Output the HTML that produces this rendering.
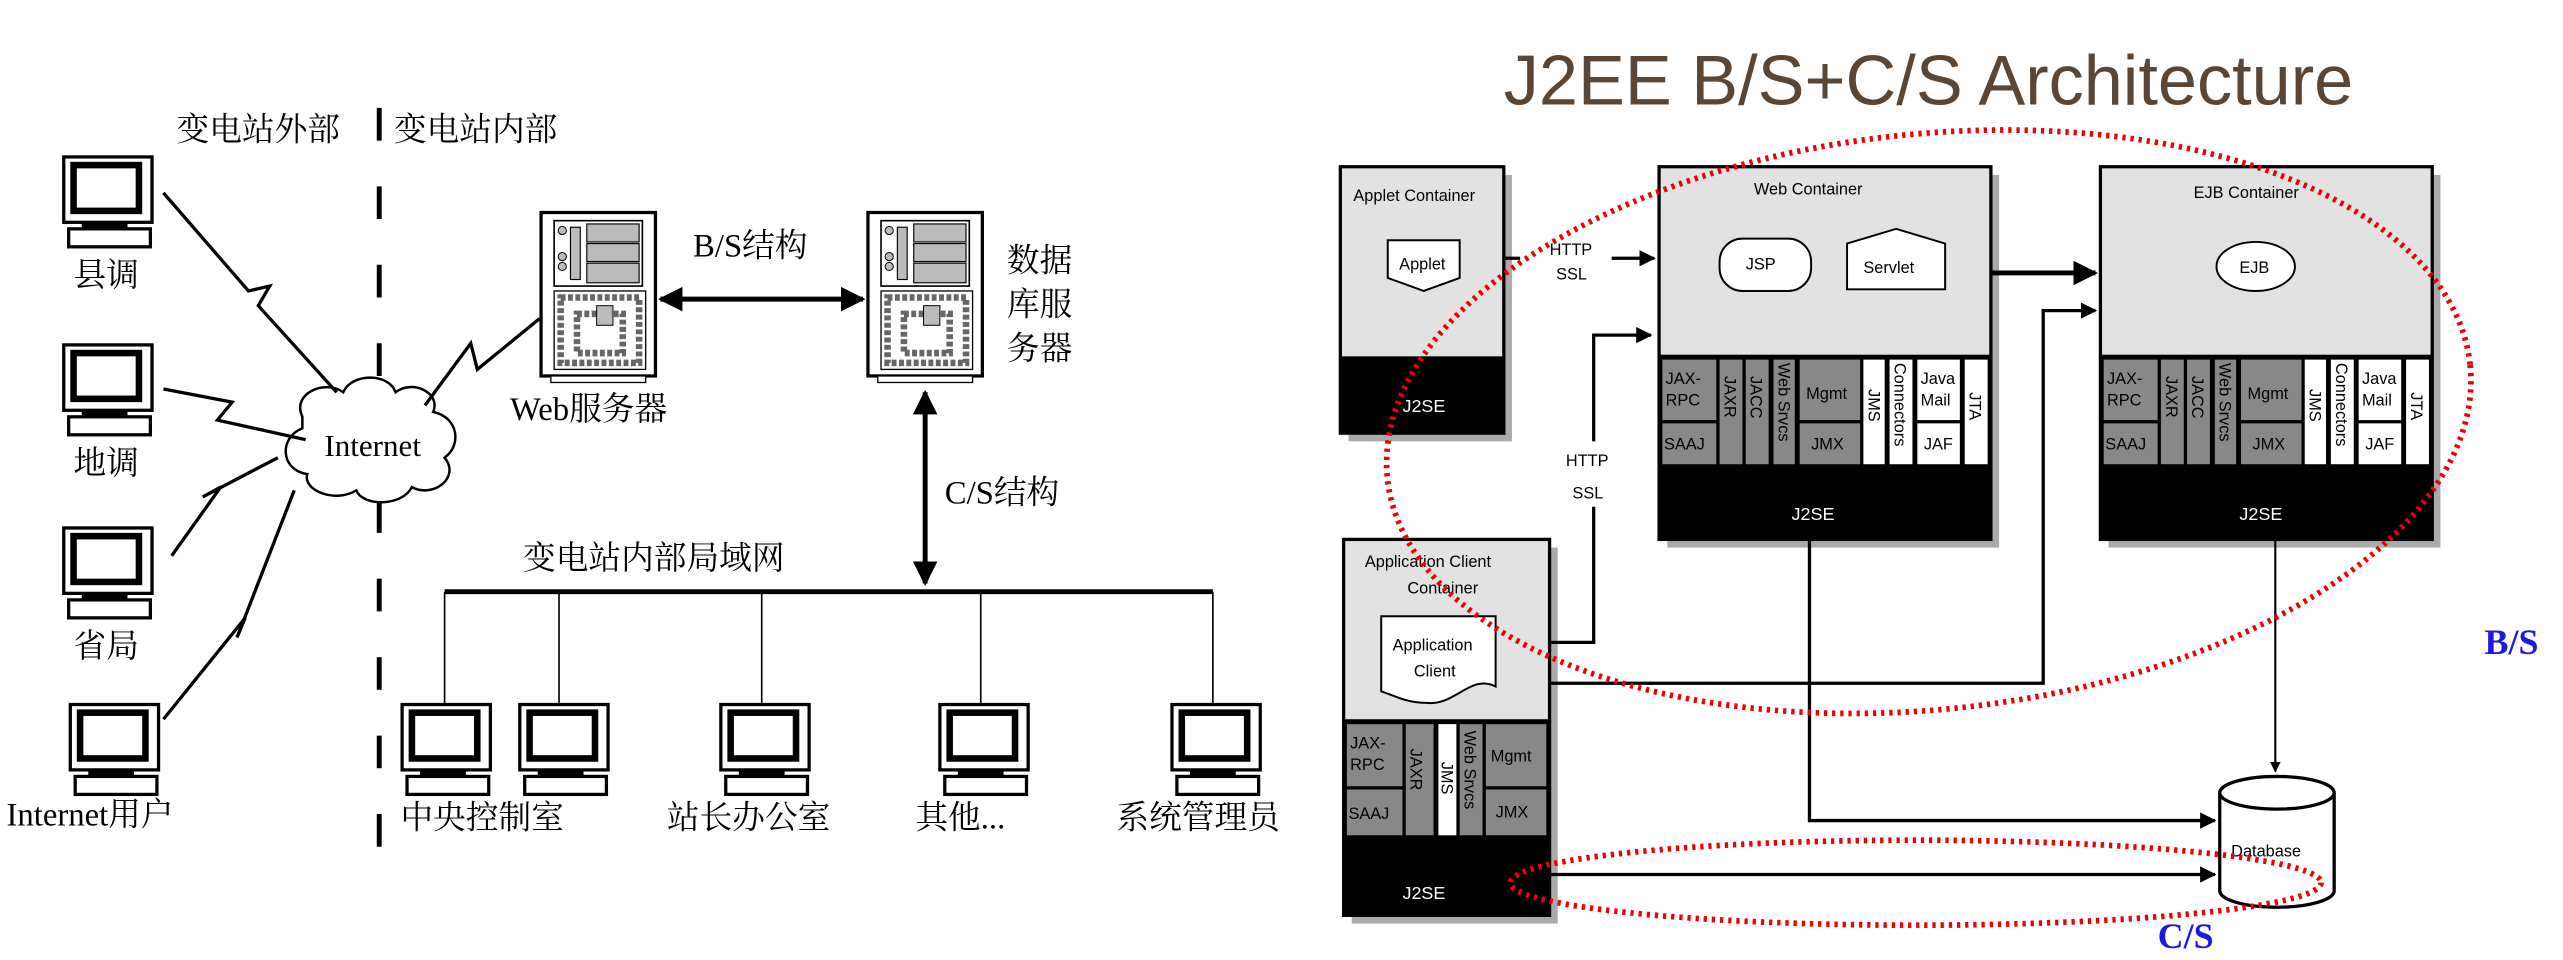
<!DOCTYPE html>
<html><head><meta charset="utf-8"><style>
html,body{margin:0;padding:0;background:#fff;}
svg{display:block;}
.cn{font-family:"Liberation Serif","Noto Serif CJK SC",serif;font-size:20px;fill:#000;}
.sm{font-family:"Liberation Sans",sans-serif;font-size:10px;fill:#000;}
.wt{font-family:"Liberation Sans",sans-serif;font-size:11px;fill:#fff;}
</style></head><body>
<svg width="2563" height="960" viewBox="0 0 1568 587.3" preserveAspectRatio="none" xmlns="http://www.w3.org/2000/svg">
<defs>
<g id="pc">
<rect x="1" y="1" width="54" height="40" fill="#fff" stroke="#000" stroke-width="2"/>
<rect x="7" y="6" width="40" height="28" fill="#fff" stroke="#000" stroke-width="4"/>
<rect x="12" y="41" width="28" height="4" fill="#000"/>
<rect x="4" y="45" width="50" height="11" fill="#fff" stroke="#000" stroke-width="2"/>
</g>
<g id="srv">
<rect x="0" y="0" width="70" height="100" fill="#fff" stroke="#000" stroke-width="2"/>
<rect x="8" y="5" width="54" height="40" fill="none" stroke="#000"/>
<rect x="28" y="7" width="32" height="11" fill="#bbb" stroke="#000" stroke-width="0.7"/>
<rect x="28" y="19" width="32" height="11" fill="#bbb" stroke="#000" stroke-width="0.7"/>
<rect x="28" y="31" width="32" height="12" fill="#bbb" stroke="#000" stroke-width="0.7"/>
<rect x="18" y="9" width="6" height="32" fill="#bbb" stroke="#000" stroke-width="0.7"/>
<circle cx="13" cy="11" r="2.5" fill="#bbb" stroke="#000" stroke-width="0.6"/>
<circle cx="13" cy="27" r="2.5" fill="#bbb" stroke="#000" stroke-width="0.6"/>
<circle cx="13" cy="33" r="2.5" fill="#bbb" stroke="#000" stroke-width="0.6"/>
<rect x="8" y="48" width="56" height="48" fill="#fff" stroke="#000" stroke-width="0.8"/>
<rect x="12" y="52" width="48" height="40" fill="none" stroke="#666" stroke-width="4" stroke-dasharray="3 1.5"/>
<rect x="22" y="62" width="28" height="24" fill="none" stroke="#666" stroke-width="4" stroke-dasharray="3 1.5"/>
<rect x="34" y="57" width="10" height="12" fill="#bbb" stroke="#000" stroke-width="0.6"/>
<rect x="6" y="100" width="58" height="4" fill="#fff" stroke="#000" stroke-width="0.8"/>
</g>
<marker id="ah" viewBox="0 0 10 10" refX="9" refY="5" markerWidth="5" markerHeight="5" orient="auto-start-reverse"><path d="M0,0 L10,5 L0,10 z" fill="#000"/></marker>
</defs>

<text class="cn" x="108" y="86">变电站外部</text>
<text class="cn" x="241" y="86">变电站内部</text>
<line x1="232" y1="66" x2="232" y2="530" stroke="#000" stroke-width="3" stroke-dasharray="20 28"/>

<use href="#pc" x="38" y="95"/>
<text class="cn" x="45" y="175">县调</text>
<use href="#pc" x="38" y="210"/>
<text class="cn" x="45" y="290">地调</text>
<use href="#pc" x="38" y="322"/>
<text class="cn" x="45" y="402">省局</text>
<use href="#pc" x="42" y="430"/>
<text class="cn" x="4" y="505">Internet用户</text>

<path d="M185,255 C178,240 200,232 210,240 C215,228 238,228 242,240 C252,232 270,240 265,252 C280,255 283,272 272,280 C282,292 265,305 252,298 C246,310 222,310 218,300 C205,308 185,300 188,290 C172,288 170,268 185,262 Z" fill="#fff" stroke="#000" stroke-width="1.5"/>
<text x="228" y="279" text-anchor="middle" style="font-family:'Liberation Serif',serif;font-size:19px;">Internet</text>

<polyline points="100,118 152,178 165,175 158,187 206,240" fill="none" stroke="#000" stroke-width="2"/>
<polyline points="100,238 142,246 133,257 187,269" fill="none" stroke="#000" stroke-width="2"/>
<polyline points="105,340 135,298 124,304 170,280" fill="none" stroke="#000" stroke-width="2"/>
<polyline points="100,440 150,378 145,390 180,300" fill="none" stroke="#000" stroke-width="2"/>
<polyline points="260,248 288,210 292,226 330,195" fill="none" stroke="#000" stroke-width="2"/>

<use href="#srv" x="331" y="130"/>
<text class="cn" x="312" y="257">Web服务器</text>
<use href="#srv" x="531" y="130"/>
<text class="cn" x="616" y="166">数据</text>
<text class="cn" x="616" y="193">库服</text>
<text class="cn" x="616" y="220">务器</text>

<text class="cn" x="424" y="157">B/S结构</text>
<line x1="404" y1="183" x2="528" y2="183" stroke="#000" stroke-width="3" marker-start="url(#ah)" marker-end="url(#ah)"/>
<text class="cn" x="578" y="308">C/S结构</text>
<line x1="566" y1="240" x2="566" y2="357" stroke="#000" stroke-width="3" marker-start="url(#ah)" marker-end="url(#ah)"/>

<text class="cn" x="320" y="348">变电站内部局域网</text>
<line x1="272" y1="362" x2="742" y2="362" stroke="#000" stroke-width="3"/>
<g stroke="#000" stroke-width="1">
<line x1="272" y1="362" x2="272" y2="430"/><line x1="342" y1="362" x2="342" y2="430"/>
<line x1="466" y1="362" x2="466" y2="430"/><line x1="600" y1="362" x2="600" y2="430"/>
<line x1="742" y1="362" x2="742" y2="430"/>
</g>
<use href="#pc" x="245" y="430"/>
<use href="#pc" x="317" y="430"/>
<use href="#pc" x="440" y="430"/>
<use href="#pc" x="574" y="430"/>
<use href="#pc" x="716" y="430"/>
<text class="cn" x="245" y="507">中央控制室</text>
<text class="cn" x="408" y="507">站长办公室</text>
<text class="cn" x="560" y="507">其他...</text>
<text class="cn" x="683" y="507">系统管理员</text>

<text x="920" y="64" style="font-family:'Liberation Sans',sans-serif;font-size:43px;fill:#5a4636;">J2EE B/S+C/S Architecture</text>

<rect x="825" y="107" width="100" height="163" fill="#aaa"/>
<rect x="820" y="102" width="100" height="163" fill="#e2e2e2" stroke="#000" stroke-width="2"/>
<rect x="820" y="218" width="100" height="47" fill="#000"/>
<text class="sm" x="828" y="123">Applet Container</text>
<path d="M849,147 H893 V170 L871,178 L849,170 Z" fill="#fff" stroke="#000" stroke-width="1.2"/>
<text class="sm" x="856" y="165">Applet</text>
<text class="wt" x="858" y="252">J2SE</text>

<rect x="1020" y="107" width="203" height="228" fill="#aaa"/>
<rect x="1015" y="102" width="203" height="228" fill="#e2e2e2" stroke="#000" stroke-width="2"/>
<text class="sm" x="1073" y="119">Web Container</text>
<rect x="1052" y="146" width="56" height="32" rx="14" fill="#fff" stroke="#000" stroke-width="1.2"/>
<text class="sm" x="1068" y="165">JSP</text>
<path d="M1130,149 L1160,140 L1190,149 V177 H1130 Z" fill="#fff" stroke="#000" stroke-width="1.2"/>
<text class="sm" x="1140" y="167">Servlet</text>
<rect x="1015" y="217" width="203" height="113" fill="#000"/>
<g fill="#888"><rect x="1017" y="220" width="33" height="37"/><rect x="1017" y="259" width="33" height="25"/><rect x="1052" y="220" width="14" height="64"/><rect x="1068" y="220" width="14" height="64"/><rect x="1085" y="220" width="13" height="64"/><rect x="1101" y="220" width="37" height="37"/><rect x="1101" y="259" width="37" height="25"/></g>
<g fill="#fff"><rect x="1140" y="220" width="13" height="64"/><rect x="1156" y="220" width="14" height="64"/><rect x="1173" y="220" width="26" height="37"/><rect x="1173" y="259" width="26" height="25"/><rect x="1202" y="220" width="14" height="64"/></g>
<text class="sm" x="1019" y="235">JAX-</text><text class="sm" x="1019" y="248">RPC</text><text class="sm" x="1018" y="275">SAAJ</text>
<text class="sm" x="1105" y="244">Mgmt</text><text class="sm" x="1108" y="275">JMX</text>
<text class="sm" x="1175" y="235">Java</text><text class="sm" x="1175" y="248">Mail</text><text class="sm" x="1177" y="275">JAF</text>
<text class="sm" transform="translate(1055,230) rotate(90)">JAXR</text>
<text class="sm" transform="translate(1071,230) rotate(90)">JACC</text>
<text class="sm" transform="translate(1088,222) rotate(90)">Web Srvcs</text>
<text class="sm" transform="translate(1143,238) rotate(90)">JMS</text>
<text class="sm" transform="translate(1159,222) rotate(90)">Connectors</text>
<text class="sm" transform="translate(1205,240) rotate(90)">JTA</text>
<text class="wt" x="1096" y="318">J2SE</text>

<rect x="1290" y="107" width="203" height="228" fill="#aaa"/>
<rect x="1285" y="102" width="203" height="228" fill="#e2e2e2" stroke="#000" stroke-width="2"/>
<text class="sm" x="1342" y="121">EJB Container</text>
<ellipse cx="1380" cy="163" rx="24" ry="15" fill="#fff" stroke="#000" stroke-width="1.2"/>
<text class="sm" x="1370" y="167">EJB</text>
<rect x="1285" y="217" width="203" height="113" fill="#000"/>
<g fill="#888"><rect x="1287" y="220" width="33" height="37"/><rect x="1287" y="259" width="33" height="25"/><rect x="1322" y="220" width="14" height="64"/><rect x="1338" y="220" width="14" height="64"/><rect x="1355" y="220" width="13" height="64"/><rect x="1371" y="220" width="37" height="37"/><rect x="1371" y="259" width="37" height="25"/></g>
<g fill="#fff"><rect x="1410" y="220" width="13" height="64"/><rect x="1426" y="220" width="14" height="64"/><rect x="1443" y="220" width="26" height="37"/><rect x="1443" y="259" width="26" height="25"/><rect x="1472" y="220" width="14" height="64"/></g>
<text class="sm" x="1289" y="235">JAX-</text><text class="sm" x="1289" y="248">RPC</text><text class="sm" x="1288" y="275">SAAJ</text>
<text class="sm" x="1375" y="244">Mgmt</text><text class="sm" x="1378" y="275">JMX</text>
<text class="sm" x="1445" y="235">Java</text><text class="sm" x="1445" y="248">Mail</text><text class="sm" x="1447" y="275">JAF</text>
<text class="sm" transform="translate(1325,230) rotate(90)">JAXR</text>
<text class="sm" transform="translate(1341,230) rotate(90)">JACC</text>
<text class="sm" transform="translate(1358,222) rotate(90)">Web Srvcs</text>
<text class="sm" transform="translate(1413,238) rotate(90)">JMS</text>
<text class="sm" transform="translate(1429,222) rotate(90)">Connectors</text>
<text class="sm" transform="translate(1475,240) rotate(90)">JTA</text>
<text class="wt" x="1370" y="318">J2SE</text>

<rect x="827" y="335" width="126" height="230" fill="#aaa"/>
<rect x="822" y="330" width="126" height="230" fill="#e2e2e2" stroke="#000" stroke-width="2"/>
<text class="sm" x="835" y="347">Application Client</text>
<text class="sm" x="861" y="363">Container</text>
<path d="M845,377 H915 V420 C900,412 890,432 873,430 C860,430 852,425 845,423 Z" fill="#fff" stroke="#000" stroke-width="1.2"/>
<text class="sm" x="852" y="398">Application</text>
<text class="sm" x="865" y="414">Client</text>
<rect x="822" y="440" width="126" height="120" fill="#000"/>
<g fill="#888"><rect x="824" y="443" width="34" height="38"/><rect x="824" y="483" width="34" height="28"/><rect x="860" y="443" width="17" height="68"/><rect x="893" y="443" width="14" height="68"/><rect x="909" y="443" width="37" height="38"/><rect x="909" y="483" width="37" height="28"/></g>
<rect x="880" y="443" width="11" height="68" fill="#fff"/>
<text class="sm" x="826" y="458">JAX-</text><text class="sm" x="826" y="471">RPC</text><text class="sm" x="825" y="501">SAAJ</text>
<text class="sm" x="912" y="466">Mgmt</text><text class="sm" x="915" y="500">JMX</text>
<text class="sm" transform="translate(863,458) rotate(90)">JAXR</text>
<text class="sm" transform="translate(882,466) rotate(90)">JMS</text>
<text class="sm" transform="translate(896,447) rotate(90)">Web Srvcs</text>
<text class="wt" x="858" y="550">J2SE</text>

<path d="M1358,485 V545 A35,10 0 0 0 1428,545 V485" fill="#fff" stroke="#000" stroke-width="2"/>
<ellipse cx="1393" cy="485" rx="35" ry="10" fill="#fff" stroke="#000" stroke-width="2"/>
<text class="sm" x="1365" y="524">Database</text>

<g fill="none" stroke="#000" stroke-width="2" marker-end="url(#ah)">
<line x1="920" y1="158" x2="1012" y2="158"/>
<polyline points="948,393 975,393 975,205 1010,205"/>
<polyline points="948,418 1250,418 1250,190 1282,190"/>
<line x1="1218" y1="167" x2="1282" y2="167" stroke-width="3"/>
<polyline points="1107,331 1107,502 1355,502"/>
<line x1="1392" y1="331" x2="1392" y2="472" stroke-width="1.3"/>
<line x1="948" y1="535" x2="1355" y2="535"/>
</g>
<rect x="930" y="146" width="56" height="30" fill="#fff"/>
<text class="sm" x="948" y="156">HTTP</text><text class="sm" x="952" y="171">SSL</text>
<rect x="955" y="270" width="40" height="40" fill="#fff"/>
<text class="sm" x="958" y="285">HTTP</text><text class="sm" x="962" y="305">SSL</text>

<ellipse cx="1180" cy="258" rx="333" ry="176" transform="rotate(-6 1180 258)" fill="none" stroke="#e00" stroke-width="3.5" stroke-dasharray="2 3"/>
<ellipse cx="1172" cy="540" rx="248" ry="26" fill="none" stroke="#e00" stroke-width="3.5" stroke-dasharray="2 3"/>
<text x="1520" y="400" style="font-family:'Liberation Serif',serif;font-size:22px;font-weight:bold;fill:#1a1ae0;">B/S</text>
<text x="1320" y="580" style="font-family:'Liberation Serif',serif;font-size:22px;font-weight:bold;fill:#1a1ae0;">C/S</text>
</svg>
</body></html>
